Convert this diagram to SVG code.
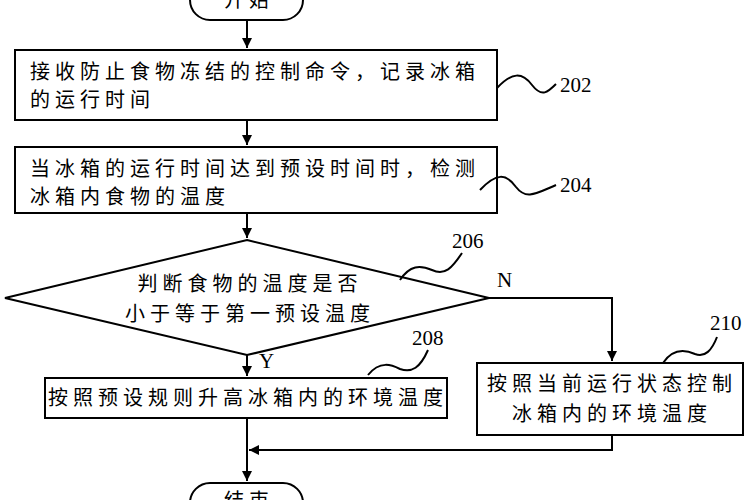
<svg xmlns="http://www.w3.org/2000/svg" width="750" height="500" viewBox="0 0 750 500">
<defs><marker id="a" markerWidth="12" markerHeight="12" refX="10" refY="5" orient="auto" markerUnits="userSpaceOnUse"><path d="M0,0 L10,5 L0,10 Z" fill="#000"/></marker></defs>
<style>
.s{fill:#fff;stroke:#000;stroke-width:2}
.l{fill:none;stroke:#000;stroke-width:2}
.t{font-family:"Noto Sans CJK SC",sans-serif;font-size:20px;letter-spacing:5px}
.n{font-family:"Liberation Serif",serif;font-size:21px}
</style>
<rect width="750" height="500" fill="#fff"/>
<g id="start"><rect class="s" x="190" y="-25" width="113" height="45" rx="20"/><text class="t" x="249" y="7" text-anchor="middle">开始</text></g>
<g id="n202"><rect class="s" x="15" y="50" width="482" height="70"/><text class="t" x="30" y="79">接收防止食物冻结的控制命令，记录冰箱</text><text class="t" x="30" y="107">的运行时间</text></g>
<g id="n204"><rect class="s" x="15" y="147" width="482" height="66"/><text class="t" x="30" y="176">当冰箱的运行时间达到预设时间时，检测</text><text class="t" x="30" y="204">冰箱内食物的温度</text></g>
<g id="n206"><polygon class="s" points="247,240 489,298 247,355 5,298"/><text class="t" x="250" y="291" text-anchor="middle">判断食物的温度是否</text><text class="t" x="250" y="321" text-anchor="middle">小于等于第一预设温度</text></g>
<g id="n208"><rect class="s" x="45" y="378" width="402" height="40"/><text class="t" x="248" y="405" text-anchor="middle">按照预设规则升高冰箱内的环境温度</text></g>
<g id="n210"><rect class="s" x="477" y="363" width="266" height="72"/><text class="t" x="612" y="391" text-anchor="middle">按照当前运行状态控制</text><text class="t" x="612" y="421" text-anchor="middle">冰箱内的环境温度</text></g>
<g id="end"><rect class="s" x="190" y="483" width="113" height="45" rx="20"/><text class="t" x="249" y="508" text-anchor="middle">结束</text></g>
<g id="connectors">
<path class="l" d="M247,20 V48" marker-end="url(#a)"/>
<path class="l" d="M247,120 V145" marker-end="url(#a)"/>
<path class="l" d="M247,213 V238" marker-end="url(#a)"/>
<path class="l" d="M247,355 V376" marker-end="url(#a)"/>
<path class="l" d="M489,298 H612 V361" marker-end="url(#a)"/>
<path class="l" d="M247,418 V481" marker-end="url(#a)"/>
<path class="l" d="M612,435 V450 H249" marker-end="url(#a)"/>
<path class="l" d="M497,88 C512,72 522,72 532,85 C542,98 548,92 556,84"/>
<path class="l" d="M480,190 C496,173 506,173 516,187 C526,200 535,194 556,185"/>
<path class="l" d="M400,280 C410,265 420,265 432,270 C445,276 452,268 462,253"/>
<path class="l" d="M368,375 C380,360 392,365 400,369 C412,373 420,368 428,350"/>
<path class="l" d="M663,363 C673,348 686,350 695,354 C705,358 712,350 717,337"/>
</g>
<text class="n" x="560" y="92">202</text>
<text class="n" x="560" y="192">204</text>
<text class="n" x="452" y="248">206</text>
<text class="n" x="412" y="345">208</text>
<text class="n" x="710" y="330">210</text>
<text class="n" x="497" y="287">N</text>
<text class="n" x="259" y="368">Y</text>
</svg>
